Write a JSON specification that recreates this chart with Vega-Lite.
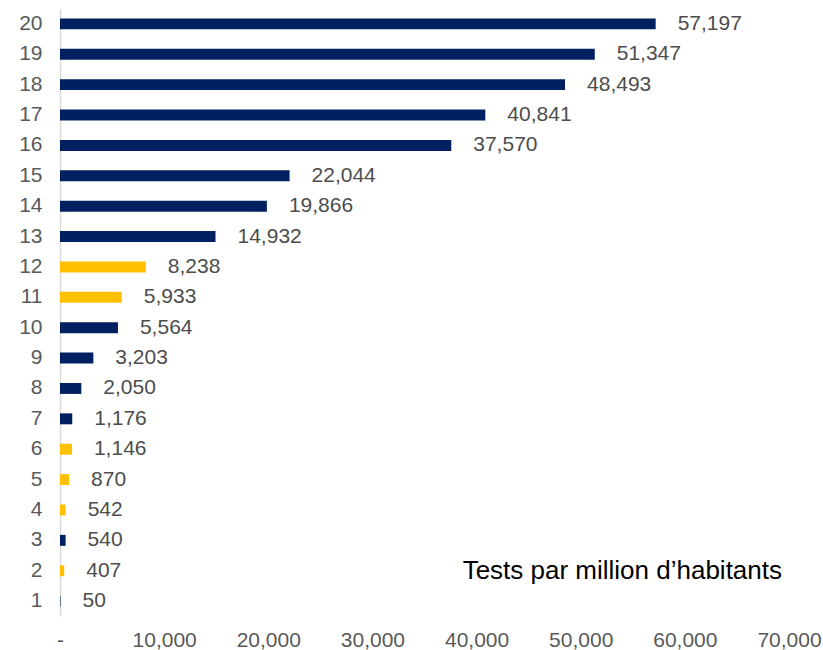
{
  "$schema": "https://vega.github.io/schema/vega-lite/v6.json",
  "autosize": "none",
  "width": 729,
  "height": 607,
  "padding": {"left": 60, "top": 9, "right": 34, "bottom": 34},
  "background": "white",
  "config": {"view": {"stroke": null}, "font": "Liberation Sans"},
  "datasets": {
    "tests": [
      {"rank": 1, "tests": 50, "group": "b"},
      {"rank": 2, "tests": 407, "group": "y"},
      {"rank": 3, "tests": 540, "group": "b"},
      {"rank": 4, "tests": 542, "group": "y"},
      {"rank": 5, "tests": 870, "group": "y"},
      {"rank": 6, "tests": 1146, "group": "y"},
      {"rank": 7, "tests": 1176, "group": "b"},
      {"rank": 8, "tests": 2050, "group": "b"},
      {"rank": 9, "tests": 3203, "group": "b"},
      {"rank": 10, "tests": 5564, "group": "b"},
      {"rank": 11, "tests": 5933, "group": "y"},
      {"rank": 12, "tests": 8238, "group": "y"},
      {"rank": 13, "tests": 14932, "group": "b"},
      {"rank": 14, "tests": 19866, "group": "b"},
      {"rank": 15, "tests": 22044, "group": "b"},
      {"rank": 16, "tests": 37570, "group": "b"},
      {"rank": 17, "tests": 40841, "group": "b"},
      {"rank": 18, "tests": 48493, "group": "b"},
      {"rank": 19, "tests": 51347, "group": "b"},
      {"rank": 20, "tests": 57197, "group": "b"}
    ],
    "note": [{"label": "Tests par million d’habitants"}]
  },
  "data": {"name": "tests"},
  "encoding": {
    "y": {
      "field": "rank",
      "type": "ordinal",
      "sort": "descending",
      "scale": {"paddingInner": 0.64, "paddingOuter": 0.31},
      "axis": {
        "title": null,
        "ticks": false,
        "domainColor": "#d9d9d9",
        "domainWidth": 1.5,
        "labelFontSize": 21,
        "labelColor": "#595959",
        "labelPadding": 18,
        "labelFont": "Liberation Sans"
      }
    }
  },
  "layer": [
    {
      "mark": {"type": "bar", "cornerRadius": 0},
      "encoding": {
        "x": {
          "field": "tests",
          "type": "quantitative",
          "scale": {"domain": [0, 70000], "nice": false},
          "axis": {
            "title": null,
            "values": [0, 10000, 20000, 30000, 40000, 50000, 60000, 70000],
            "labelExpr": "datum.value == 0 ? '-' : format(datum.value, ',')",
            "labelFlush": false,
            "grid": false,
            "ticks": false,
            "domain": false,
            "labelFontSize": 21,
            "labelColor": "#595959",
            "labelPadding": 13,
            "labelFont": "Liberation Sans"
          }
        },
        "color": {
          "field": "group",
          "type": "nominal",
          "scale": {"domain": ["b", "y"], "range": ["#002060", "#FFC000"]},
          "legend": null
        }
      }
    },
    {
      "mark": {"type": "text", "align": "left", "baseline": "middle", "dx": 22, "fontSize": 21, "color": "#4d4d4d", "font": "Liberation Sans"},
      "encoding": {
        "x": {"field": "tests", "type": "quantitative"},
        "text": {"field": "tests", "type": "quantitative", "format": ","}
      }
    },
    {
      "data": {"name": "note"},
      "mark": {"type": "text", "align": "right", "baseline": "alphabetic", "dy": 8, "fontSize": 26, "color": "#000000", "font": "Liberation Sans"},
      "encoding": {
        "x": {"datum": 69330},
        "y": {"datum": 2},
        "text": {"field": "label", "type": "nominal"}
      }
    }
  ]
}
